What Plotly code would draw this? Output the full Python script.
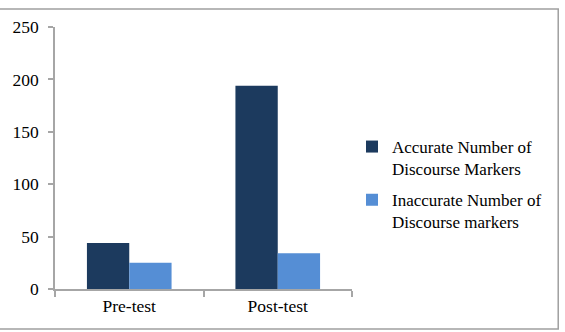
import plotly.graph_objects as go

categories = ["Pre-test", "Post-test"]
accurate = [44, 194]
inaccurate = [25, 34]
series_names = ["Accurate Number of<br>Discourse Markers", "Inaccurate Number of<br>Discourse markers"]
y_ticks = [0, 50, 100, 150, 200, 250]

FONT = "Liberation Serif"
AXIS = "#A6A6A6"

fig = go.Figure()
fig.add_trace(go.Bar(x=categories, y=accurate, name=series_names[0], legendgroup="acc",
                     marker=dict(color="#1C3A5E", line=dict(width=0))))
fig.add_trace(go.Bar(x=categories, y=inaccurate, name=series_names[1], legendgroup="inacc",
                     marker=dict(color="#558ED5", line=dict(width=0))))

W, H = 565, 332
L, R, T, B = 51, 213, 27, 43
pw, ph = W - L - R, H - T - B

def px(xp):
    return (xp - L) / pw

def py(yp):
    return (H - B - yp) / ph

fig.update_layout(
    width=W, height=H,
    margin=dict(l=L, r=R, t=T, b=B),
    paper_bgcolor="white", plot_bgcolor="white",
    barmode="group", bargap=0.43, bargroupgap=0,
    font=dict(family=FONT, size=17.5, color="black"),
    showlegend=True,
    legend=dict(x=px(352), xanchor="left", y=py(129), yanchor="top",
                traceorder="grouped", valign="top",
                font=dict(family=FONT, size=17, color="black"),
                bgcolor="rgba(0,0,0,0)", tracegroupgap=6),
    xaxis=dict(showline=True, linecolor=AXIS, linewidth=1.5,
               ticks="outside", tickson="boundaries", ticklen=6,
               tickcolor=AXIS, tickwidth=1.5, showgrid=False, zeroline=False,
               tickfont=dict(family=FONT, size=17.5)),
    yaxis=dict(range=[0, 250], tickvals=y_ticks, showline=True,
               linecolor=AXIS, linewidth=1.5, ticks="outside", ticklen=5,
               tickcolor=AXIS, tickwidth=1.5, showgrid=False, zeroline=False,
               ticklabelstandoff=6, tickfont=dict(family=FONT, size=17.5)),
    shapes=[dict(type="rect", xref="paper", yref="paper",
                 x0=px(-6), x1=px(561), y0=py(329), y1=py(9),
                 line=dict(color="#A0A0A0", width=1.5), layer="below")],
)

fig.write_html("out.html")
